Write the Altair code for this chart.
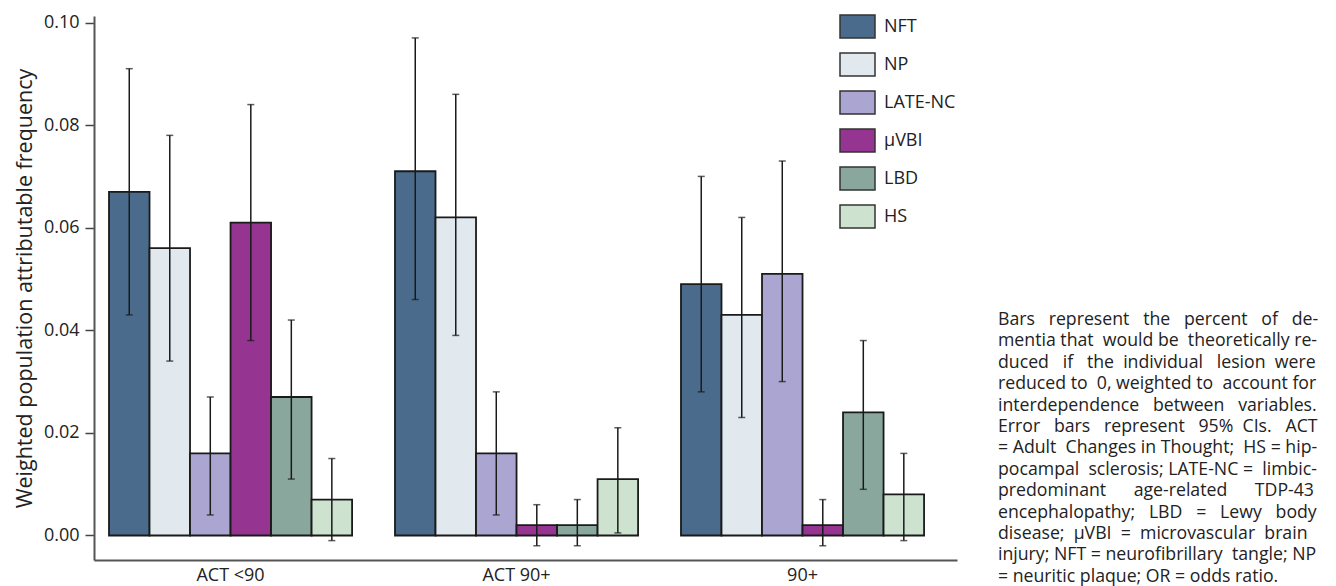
import altair as alt
import pandas as pd

groups = ["ACT <90", "ACT 90+", "90+"]
lesions = ["NFT", "NP", "LATE-NC", "μVBI", "LBD", "HS"]
colors = ["#4a6b8c", "#e1e9ee", "#aaa5d1", "#963591", "#8aa79d", "#cde3cf"]

paf_act_lt90 = [0.067, 0.056, 0.016, 0.061, 0.027, 0.007]
lo_act_lt90 = [0.043, 0.034, 0.004, 0.038, 0.011, -0.001]
hi_act_lt90 = [0.091, 0.078, 0.027, 0.084, 0.042, 0.015]

paf_act_90p = [0.071, 0.062, 0.016, 0.002, 0.002, 0.011]
lo_act_90p = [0.046, 0.039, 0.004, -0.002, -0.002, 0.0005]
hi_act_90p = [0.097, 0.086, 0.028, 0.006, 0.007, 0.021]

paf_90p = [0.049, 0.043, 0.051, 0.002, 0.024, 0.008]
lo_90p = [0.028, 0.023, 0.030, -0.002, 0.009, -0.001]
hi_90p = [0.070, 0.062, 0.073, 0.007, 0.038, 0.016]

y_ticks = [0.0, 0.02, 0.04, 0.06, 0.08, 0.10]

caption_lines = [
    "Bars represent the percent of de-",
    "mentia that would be theoretically re-",
    "duced if the individual lesion were",
    "reduced to 0, weighted to account for",
    "interdependence between variables.",
    "Error bars represent 95% CIs. ACT",
    "= Adult Changes in Thought; HS = hip-",
    "pocampal sclerosis; LATE-NC = limbic-",
    "predominant age-related TDP-43",
    "encephalopathy; LBD = Lewy body",
    "disease; μVBI = microvascular brain",
    "injury; NFT = neurofibrillary tangle; NP",
    "= neuritic plaque; OR = odds ratio.",
]
# extra non-breaking spaces per word gap, to imitate justified text
justify_pad = [
    [2, 2, 2, 2, 2],
    [0, 1, 0, 1, 0],
    [2, 2, 1, 2, 1],
    [0, 1, 0, 0, 1, 0],
    [2, 2],
    [2, 2, 2, 1, 2],
    [0, 1, 0, 0, 1, 0, 0],
    [1, 0, 0, 1],
    [5, 5],
    [2, 2, 2, 2],
    [1, 1, 1, 1],
    [0, 0, 0, 1, 0, 0],
    [],
]


def justify(line, pads):
    words = line.split(" ")
    out = words[0]
    for i, w in enumerate(words[1:]):
        n = pads[i] if i < len(pads) else 0
        out += " " + "\u00a0" * n + w
    return out


caption_text = "\n".join(justify(l, p) for l, p in zip(caption_lines, justify_pad))

rows = []
for g, paf, lo, hi in [
    (groups[0], paf_act_lt90, lo_act_lt90, hi_act_lt90),
    (groups[1], paf_act_90p, lo_act_90p, hi_act_90p),
    (groups[2], paf_90p, lo_90p, hi_90p),
]:
    for les, p, l, h in zip(lesions, paf, lo, hi):
        rows.append({"group": g, "lesion": les, "paf": p, "lo": l, "hi": h})
df = pd.DataFrame(rows)

FONT = "Open Sans"
ydom = [-0.00478, 0.10127]

xenc = alt.X(
    "group:N",
    sort=groups,
    scale=alt.Scale(paddingInner=0.15, paddingOuter=0.0838, align=0.313),
    axis=alt.Axis(
        title=None, labelAngle=0, ticks=False, domainColor="#555555",
        domainWidth=2, labelFontSize=18, labelPadding=6, labelFont=FONT,
        labelColor="#222222",
    ),
)
xoff = alt.XOffset(
    "lesion:N", sort=lesions, scale=alt.Scale(paddingInner=0, paddingOuter=0)
)
yscale = alt.Scale(domain=ydom, nice=False, zero=False)

bars = alt.Chart(df).mark_bar(stroke="#1a1a1a", strokeWidth=1.8).encode(
    x=xenc,
    xOffset=xoff,
    y=alt.Y(
        "paf:Q",
        scale=yscale,
        axis=alt.Axis(
            values=y_ticks, format=".2f", grid=False,
            title="Weighted population attributable frequency",
            titleFontSize=21.5, titleFont=FONT, titleFontWeight="normal",
            titleColor="#222222", titlePadding=7,
            labelFontSize=18, labelFont=FONT, labelColor="#222222",
            labelPadding=6, tickSize=9, tickColor="#444444", tickWidth=1.5,
            domainColor="#555555", domainWidth=2,
        ),
    ),
    y2=alt.datum(0),
    color=alt.Color(
        "lesion:N",
        sort=lesions,
        scale=alt.Scale(domain=lesions, range=colors),
        legend=alt.Legend(
            title=None, orient="none", legendX=745, legendY=-8,
            symbolType="M-1,-0.66L1,-0.66L1,0.66L-1,0.66Z", symbolSize=1225,
            symbolStrokeColor="#333333", symbolStrokeWidth=1.5,
            symbolOpacity=1, labelFontSize=18, labelFont=FONT,
            labelColor="#222222", labelOffset=8, rowPadding=4, padding=0,
        ),
    ),
)

rules = alt.Chart(df).mark_rule(color="#1a1a1a", strokeWidth=1.5).encode(
    x=xenc, xOffset=xoff,
    y=alt.Y("lo:Q", scale=yscale),
    y2="hi:Q",
)
caps_lo = alt.Chart(df).mark_tick(color="#1a1a1a", size=7, thickness=1.5).encode(
    x=xenc, xOffset=xoff, y=alt.Y("lo:Q", scale=yscale)
)
caps_hi = alt.Chart(df).mark_tick(color="#1a1a1a", size=7, thickness=1.5).encode(
    x=xenc, xOffset=xoff, y=alt.Y("hi:Q", scale=yscale)
)

caption = alt.Chart(pd.DataFrame({"t": [caption_text]})).mark_text(
    align="left", baseline="top", font=FONT, fontSize=17.7, lineHeight=21.4,
    lineBreak="\n", color="#222222",
).encode(x=alt.value(904), y=alt.value(295), text="t:N")

chart = alt.layer(bars, rules, caps_lo, caps_hi, caption).properties(
    width=863, height=544,
    autosize=alt.AutoSizeParams(type="none"),
    padding={"left": 86, "top": 8, "right": 371, "bottom": 26},
).configure_view(stroke=None)

chart.save("out.html", embed_options={"renderer": "svg", "actions": False})
